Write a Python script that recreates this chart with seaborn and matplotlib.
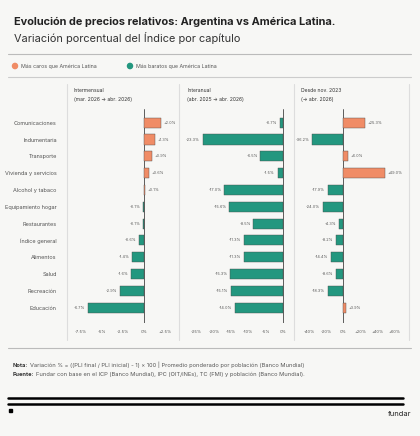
import matplotlib
matplotlib.use("Agg")
import matplotlib.pyplot as plt
import seaborn as sns
import pandas as pd
from matplotlib.lines import Line2D
from matplotlib.patches import Rectangle

# datos
categorias = ["Comunicaciones", "Indumentaria", "Transporte", "Vivienda y servicios",
              "Alcohol y tabaco", "Equipamiento hogar", "Restaurantes", "Índice general",
              "Alimentos", "Salud", "Recreación", "Educación"]
intermensual = [2.0, 1.3, 0.9, 0.6, 0.1, -0.1, -0.1, -0.6, -1.4, -1.6, -2.9, -6.7]
interanual = [-0.7, -23.3, -6.5, -1.5, -17.0, -15.6, -8.5, -11.3, -11.3, -15.3, -15.1, -14.0]
desde_nov23 = [25.3, -36.2, 6.0, 49.0, -17.9, -24.0, -4.3, -8.2, -14.4, -8.6, -18.3, 3.9]

ticks_1 = [-7.5, -5, -2.5, 0, 2.5]
ticks_1_lab = ["-7.5%", "-5%", "-2.5%", "0%", "+2.5%"]
ticks_2 = [-25, -20, -15, -10, -5, 0]
ticks_2_lab = ["-25%", "-20%", "-15%", "-10%", "-5%", "0%"]
ticks_3 = [-40, -20, 0, 20, 40, 60]
ticks_3_lab = ["-40%", "-20%", "0%", "+20%", "+40%", "+60%"]

titulos = [("Intermensual", "(mar. 2026 → abr. 2026)"),
           ("Interanual", "(abr. 2025 → abr. 2026)"),
           ("Desde nov. 2023", "(→ abr. 2026)")]

naranja = "#F08C66"
verde = "#23977F"
fondo = "#F7F7F5"
gris_txt = "#555555"

sns.set_style("white")
plt.rcParams["font.family"] = ["Inter", "DejaVu Sans"]

W, H = 420, 436
fig = plt.figure(figsize=(W / 100, H / 100), dpi=100, facecolor=fondo)


def fx(x):
    return x / W


def fy(y):
    return 1 - y / H


def hline(y, x0, x1, color, lw):
    fig.add_artist(Line2D([fx(x0), fx(x1)], [fy(y), fy(y)], color=color, lw=lw,
                          transform=fig.transFigure))


def vline(x, y0, y1, color, lw):
    fig.add_artist(Line2D([fx(x), fx(x)], [fy(y0), fy(y1)], color=color, lw=lw,
                          transform=fig.transFigure))


def texto_negrita(x, y, neg, resto, size):
    t = fig.text(fx(x), fy(y), neg, fontsize=size, fontweight="bold", color="#333333", va="center")
    r = fig.canvas.get_renderer()
    ancho = t.get_window_extent(r).width
    fig.text(fx(x + ancho + 2), fy(y), resto, fontsize=size, color="#555555", va="center")


# encabezado
fig.text(fx(14), fy(22), "Evolución de precios relativos: Argentina vs América Latina.",
         fontsize=7.9, fontweight="bold", color="#222222", va="center")
fig.text(fx(14), fy(38), "Variación porcentual del Índice por capítulo",
         fontsize=7.9, color="#333333", va="center")
hline(54, 8, 411, "#bbbbbb", 0.8)
fig.add_artist(plt.Circle((fx(15), fy(66)), 0.006, color=naranja, transform=fig.transFigure))
fig.text(fx(21), fy(66), "Más caros que América Latina", fontsize=3.8, color=gris_txt, va="center")
fig.add_artist(plt.Circle((fx(130), fy(66)), 0.006, color=verde, transform=fig.transFigure))
fig.text(fx(136), fy(66), "Más baratos que América Latina", fontsize=3.8, color=gris_txt, va="center")
hline(77, 8, 411, "#cccccc", 0.8)

# paneles: (px izq, px der, xlim, datos, ticks, etiquetas)
paneles = [
    (72, 175, (-8.57, 3.69), intermensual, ticks_1, ticks_1_lab),
    (185, 290, (-28.4, 2.12), interanual, ticks_2, ticks_2_lab),
    (299, 405, (-51.7, 72.5), desde_nov23, ticks_3, ticks_3_lab),
]
y_top, y_bot = 109, 323

for i, (x0, x1, xl, vals, tks, tkl) in enumerate(paneles):
    ax = fig.add_axes([fx(x0), fy(y_bot), (x1 - x0) / W, (y_bot - y_top) / H])
    ax.set_facecolor("none")
    df = pd.DataFrame({"cat": categorias, "val": vals,
                       "signo": ["caro" if v > 0 else "barato" for v in vals]})
    sns.barplot(data=df, x="val", y="cat", hue="signo", orient="h", dodge=False,
                palette={"caro": naranja, "barato": verde}, width=0.6, saturation=1,
                edgecolor="#4a4a4a", linewidth=0.3, legend=False, ax=ax)
    ax.set_xlim(*xl)
    ax.set_ylim(11.91, -0.815)
    ax.axvline(0, color="#444444", lw=0.6, zorder=0)
    span = xl[1] - xl[0]
    for j, v in enumerate(vals):
        lab = f"{v:+.1f}%"
        if v >= 0:
            ax.text(v + span * 0.025, j, lab, fontsize=2.8, color=gris_txt, va="center", ha="left")
        else:
            ax.text(v - span * 0.025, j, lab, fontsize=2.8, color=gris_txt, va="center", ha="right")
    ax.set_xticks(tks)
    ax.set_xticklabels(tkl, fontsize=3, color=gris_txt)
    ax.tick_params(axis="x", length=0, pad=5)
    ax.set_xlabel("")
    ax.set_ylabel("")
    if i == 0:
        ax.set_yticks(range(len(categorias)))
        ax.set_yticklabels(categorias, fontsize=4.0, color=gris_txt)
        ax.tick_params(axis="y", length=0, pad=11)
    else:
        ax.set_yticks([])
    for s in ax.spines.values():
        s.set_visible(False)
    fig.text(fx(x0 + 2), fy(90), titulos[i][0], fontsize=3.6, color="#333333", va="center")
    fig.text(fx(x0 + 2), fy(99), titulos[i][1], fontsize=3.6, color="#333333", va="center")

for x in [67, 179, 294, 409]:
    vline(x, 84, 340, "#dddddd", 0.8)

# pie
hline(348, 8, 411, "#bbbbbb", 0.8)
texto_negrita(13, 365, "Nota:", "Variación % = ((PLI final / PLI inicial) - 1) × 100 | "
              "Promedio ponderado por población (Banco Mundial)", 4.1)
texto_negrita(13, 374, "Fuente:", "Fundar con base en el ICP (Banco Mundial), IPC (OIT/INEs), "
              "TC (FMI) y población (Banco Mundial).", 4.1)
hline(398, 8, 403, "black", 1.8)
hline(404, 8, 403, "black", 1.8)
fig.add_artist(Rectangle((fx(9), fy(412)), 3 / W, 3 / H, color="black", transform=fig.transFigure))
fig.text(fx(411), fy(414), "fundar", fontsize=5.4, color="#222222", va="center", ha="right")

fig.savefig("out.png", dpi=100, facecolor=fondo)
